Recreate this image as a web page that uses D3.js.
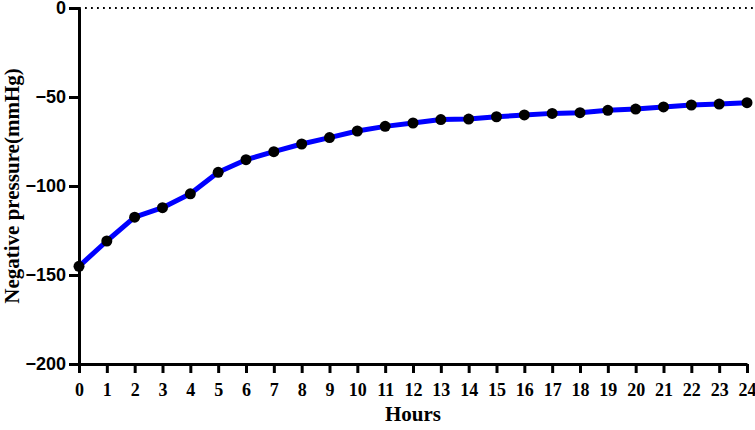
<!DOCTYPE html>
<html>
<head>
<meta charset="utf-8">
<script src="https://cdn.jsdelivr.net/npm/d3@7"></script>
<style>
  body { margin: 0; background: #fff; }
</style>
</head>
<body>
<script>
// data
var hours = d3.range(0, 25);
var pressure = [-145.1, -130.9, -117.5, -112.2, -104.4, -92.3, -85.2, -80.7, -76.4, -72.8,
                -69.1, -66.5, -64.6, -62.7, -62.4, -61.1, -60.1, -59.2, -58.8, -57.5,
                -56.8, -55.6, -54.5, -54.0, -53.2];
var yTicks = [0, -50, -100, -150, -200];

var width = 755, height = 430;
var margin = { top: 8, right: 8, bottom: 66, left: 79 };

var svg = d3.select("body").append("svg")
    .attr("width", width)
    .attr("height", height);

var x = d3.scaleLinear().domain([0, 24]).range([margin.left, width - margin.right]);
var y = d3.scaleLinear().domain([-200, 0]).range([height - margin.bottom, margin.top]);

// dotted zero line
svg.append("line")
    .attr("x1", x(0)).attr("x2", width)
    .attr("y1", y(0)).attr("y2", y(0))
    .attr("stroke", "#000")
    .attr("stroke-width", 1.8)
    .attr("stroke-dasharray", "1.8,4.2");

// y axis
var yAxis = svg.append("g")
    .attr("transform", "translate(" + x(0) + ",0)")
    .call(d3.axisLeft(y).tickValues(yTicks).tickSize(10).tickPadding(3).tickSizeOuter(0));
yAxis.select(".domain").attr("stroke-width", 3);
yAxis.selectAll(".tick line").attr("stroke-width", 3);
yAxis.selectAll("text")
    .style("font-family", "Liberation Sans, Arial, sans-serif")
    .style("font-weight", "bold")
    .style("font-size", "18px")
    .attr("fill", "#000");

// x axis
var xAxis = svg.append("g")
    .attr("transform", "translate(0," + y(-200) + ")")
    .call(d3.axisBottom(x).tickValues(hours).tickFormat(d3.format("d")).tickSize(9).tickPadding(10).tickSizeOuter(0));
xAxis.select(".domain").attr("stroke-width", 3);
xAxis.selectAll(".tick line").attr("stroke-width", 3);
xAxis.selectAll("text")
    .style("font-family", "Liberation Serif, Times New Roman, serif")
    .style("font-weight", "bold")
    .style("font-size", "18px")
    .attr("fill", "#000");

// axis titles
svg.append("text")
    .attr("x", (x(0) + x(24)) / 2)
    .attr("y", 421)
    .attr("text-anchor", "middle")
    .style("font-family", "Liberation Serif, Times New Roman, serif")
    .style("font-weight", "bold")
    .style("font-size", "21px")
    .text("Hours");

svg.append("text")
    .attr("transform", "translate(19," + (y(0) + y(-200)) / 2 + ") rotate(-90)")
    .attr("text-anchor", "middle")
    .style("font-family", "Liberation Serif, Times New Roman, serif")
    .style("font-weight", "bold")
    .style("font-size", "21px")
    .text("Negative pressure(mmHg)");

// line + markers
var line = d3.line()
    .x(function(d, i) { return x(hours[i]); })
    .y(function(d) { return y(d); });

svg.append("path")
    .datum(pressure)
    .attr("fill", "none")
    .attr("stroke", "#0000ff")
    .attr("stroke-width", 5)
    .attr("stroke-linejoin", "round")
    .attr("d", line);

svg.selectAll("circle")
    .data(pressure)
    .enter()
    .append("circle")
    .attr("cx", function(d, i) { return x(hours[i]); })
    .attr("cy", function(d) { return y(d); })
    .attr("r", 5.5)
    .attr("fill", "#000");
</script>
</body>
</html>
